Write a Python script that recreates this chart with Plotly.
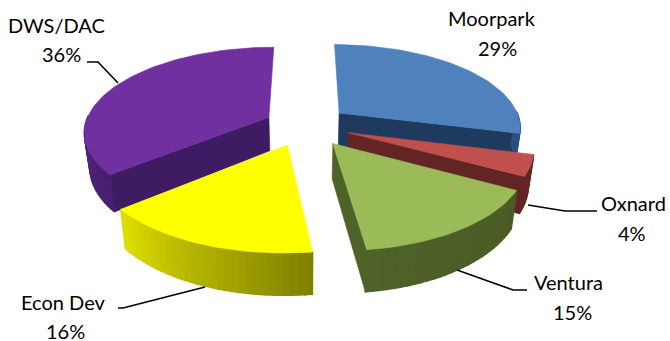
import math
import plotly.graph_objects as go

categories = ["Moorpark", "Oxnard", "Ventura", "Econ Dev", "DWS/DAC"]
shares = [29, 4, 15, 16, 36]

top_colors = ["#4f81bd", "#c0504d", "#9bbb59", "#ffff00", "#7030a0"]
cut_colors = ["#1f3a5f", "#632523", "#4f6228", "#808000", "#3f1b63"]
wall_from = ["#2a5080", "#632523", "#4a5c25", "#7f7f00", "#47206e"]
wall_to = ["#2a5080", "#632523", "#4f6228", "#e0e000", "#6c2e9c"]
explode = [0.24, 0.25, 0.26, 0.25, 0.22]
radius = [0.99, 0.975, 1.0, 1.0, 1.0]
draw_order = [0, 4, 1, 2, 3]

CX, CY, R, RT, P, H = 305, 125, 184, 83.5, 0.159, 34


def project(u, v, lift=0.0):
    s = 1 / (1 - P * v)
    return CX + R * u * s * (1 - 0.025 * lift), CY + RT * v * s + lift * H * s


def hex_mix(a, b, t):
    pa = [int(a[i:i + 2], 16) for i in (1, 3, 5)]
    pb = [int(b[i:i + 2], 16) for i in (1, 3, 5)]
    return "rgb(%d,%d,%d)" % tuple(round(x + (y - x) * t) for x, y in zip(pa, pb))


def polygon(fig, pts, color, lw=0.6):
    xs = [p[0] for p in pts] + [pts[0][0]]
    ys = [p[1] for p in pts] + [pts[0][1]]
    fig.add_trace(go.Scatter(x=xs, y=ys, mode="lines", fill="toself", fillcolor=color,
                             line=dict(color=color, width=lw), hoverinfo="skip", showlegend=False))


fig = go.Figure()
total = sum(shares)
starts = [sum(shares[:i]) / total * 2 * math.pi for i in range(len(shares))]
ends = [sum(shares[:i + 1]) / total * 2 * math.pi for i in range(len(shares))]

for i in draw_order:
    a0, a1 = starts[i], ends[i]
    mid = (a0 + a1) / 2
    ou, ov = explode[i] * math.sin(mid), -explode[i] * math.cos(mid)
    n = max(8, int((a1 - a0) * 30))
    angles = [a0 + (a1 - a0) * k / n for k in range(n + 1)]
    rim = [(ou + radius[i] * math.sin(a), ov - radius[i] * math.cos(a)) for a in angles]
    apex = (ou, ov)
    faces = []
    if math.sin(a0) < -1e-6:
        faces.append(rim[0])
    if math.sin(a1) > 1e-6:
        faces.append(rim[-1])
    for edge in faces:
        polygon(fig, [project(*apex), project(*edge), project(*edge, 1), project(*apex, 1)], cut_colors[i])
    for k in range(n):
        if -math.cos((angles[k] + angles[k + 1]) / 2) < -0.02:
            continue
        t = (k + 0.5) / n
        polygon(fig, [project(*rim[k]), project(*rim[k + 1]), project(*rim[k + 1], 1), project(*rim[k], 1)],
                hex_mix(wall_from[i], wall_to[i], t), lw=1.5)
    polygon(fig, [project(*apex)] + [project(*p) for p in rim], top_colors[i])

name_at = {
    "Moorpark": (492, 18),
    "Oxnard": (633, 203),
    "Ventura": (568, 282),
    "Econ Dev": (63, 302),
    "DWS/DAC": (56, 25),
}
pct_at = {
    "Moorpark": (497, 48),
    "Oxnard": (632, 233),
    "Ventura": (572, 312),
    "Econ Dev": (65, 331),
    "DWS/DAC": (61, 54),
}
font = dict(family="Lato", size=20, color="#000000")
for name, val in zip(categories, shares):
    for (x, y), text in ((name_at[name], name), (pct_at[name], f"{val}%")):
        fig.add_annotation(x=x, y=y, text=text, showarrow=False, xref="x", yref="y", font=font)

leaders = [
    [(87, 62), (98, 62), (118, 83)],
    [(118, 308), (123, 308), (205, 287)],
    [(457, 270), (513, 290), (527, 290)],
    [(528, 205), (565, 211), (597, 211)],
]
for pts in leaders:
    path = "M " + " L ".join(f"{x} {y}" for x, y in pts)
    fig.add_shape(type="path", path=path, xref="x", yref="y", line=dict(color="#000000", width=1.6))

fig.update_layout(
    width=670, height=341, margin=dict(l=0, r=0, t=0, b=0),
    paper_bgcolor="#ffffff", plot_bgcolor="#ffffff", showlegend=False,
    xaxis=dict(range=[0, 670], visible=False, fixedrange=True),
    yaxis=dict(range=[341, 0], visible=False, fixedrange=True),
)
fig.write_html("out.html", config=dict(displayModeBar=False),
               post_script="document.body.style.margin='0';")
